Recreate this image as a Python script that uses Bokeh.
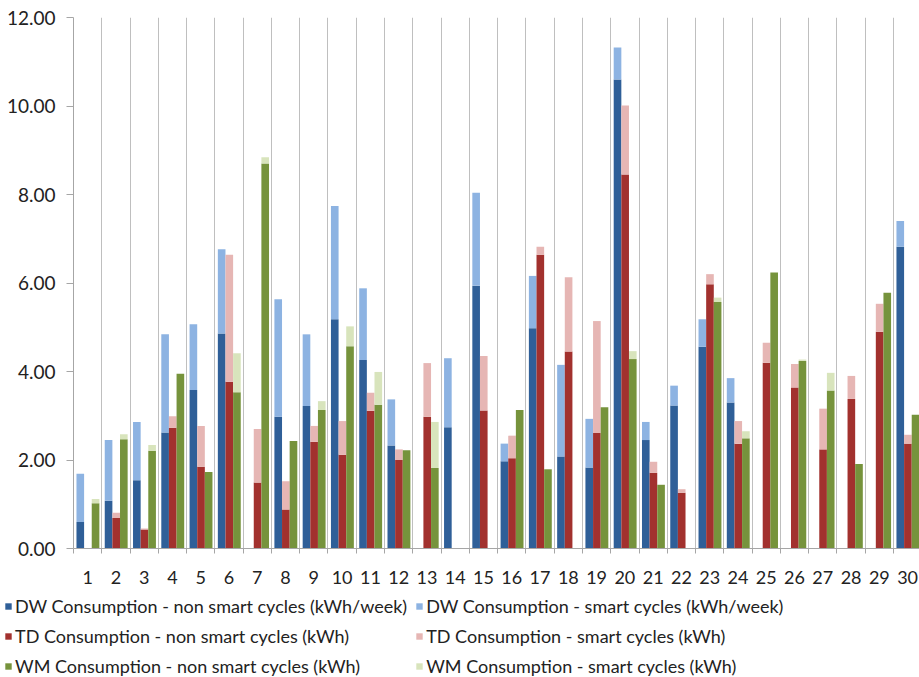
from bokeh.plotting import figure
from bokeh.layouts import column
from bokeh.models import ColumnDataSource, FixedTicker, NumeralTickFormatter, Legend, LegendItem, Range1d
from bokeh.embed import file_html
from bokeh.resources import INLINE

households = list(range(1, 31))

dw_non = [0.60, 1.08, 1.54, 2.62, 3.58, 4.86, 0.00, 2.98, 3.22, 5.18,
          4.26, 2.33, 0.00, 2.74, 5.94, 1.97, 4.98, 2.08, 1.83, 10.60,
          2.45, 3.23, 4.56, 3.30, 0.00, 0.00, 0.00, 0.00, 0.00, 6.82]
dw_smart = [1.09, 1.37, 1.32, 2.22, 1.49, 1.90, 0.00, 2.65, 1.62, 2.56,
            1.62, 1.04, 0.00, 1.56, 2.10, 0.40, 1.18, 2.07, 1.10, 0.72,
            0.41, 0.45, 0.62, 0.55, 0.00, 0.00, 0.00, 0.00, 0.00, 0.58]

td_non = [0.00, 0.69, 0.43, 2.73, 1.85, 3.77, 1.49, 0.88, 2.41, 2.12,
          3.11, 2.00, 2.98, 0.00, 3.12, 2.04, 6.64, 4.45, 2.61, 8.45,
          1.71, 1.26, 5.97, 2.37, 4.20, 3.64, 2.24, 3.38, 4.90, 2.37]
td_smart = [0.00, 0.12, 0.02, 0.26, 0.92, 2.87, 1.21, 0.64, 0.36, 0.76,
            0.41, 0.24, 1.21, 0.00, 1.23, 0.51, 0.18, 1.68, 2.53, 1.56,
            0.25, 0.08, 0.23, 0.51, 0.45, 0.53, 0.92, 0.52, 0.63, 0.20]

wm_non = [1.02, 2.47, 2.21, 3.95, 1.73, 3.53, 8.70, 2.43, 3.13, 4.57,
          3.25, 2.22, 1.82, 0.00, 0.00, 3.13, 1.79, 0.00, 3.19, 4.28,
          1.44, 0.00, 5.57, 2.49, 6.24, 4.24, 3.57, 1.91, 5.78, 3.02]
wm_smart = [0.10, 0.11, 0.13, 0.00, 0.00, 0.88, 0.14, 0.00, 0.20, 0.45,
            0.74, 0.00, 1.04, 0.00, 0.00, 0.00, 0.00, 0.00, 0.00, 0.18,
            0.00, 0.00, 0.10, 0.16, 0.00, 0.03, 0.40, 0.00, 0.00, 0.00]

y_ticks = [0, 2, 4, 6, 8, 10, 12]

series = [
    ("DW", dw_non, dw_smart, "#2F5F98", "#8DB3E2",
     "DW Consumption - non smart cycles (kWh/week)", "DW Consumption - smart cycles (kWh/week)"),
    ("TD", td_non, td_smart, "#A2312E", "#E6B6B4",
     "TD Consumption - non smart cycles (kWh)", "TD Consumption - smart cycles (kWh)"),
    ("WM", wm_non, wm_smart, "#76933C", "#D8E4BC",
     "WM Consumption - non smart cycles (kWh)", "WM Consumption - smart cycles (kWh)"),
]
offsets = [-0.26, 0.01, 0.28]
bar_w = 0.27

FONT = "Lato"

p = figure(width=919, height=590, output_backend="svg", toolbar_location=None,
           x_range=Range1d(0.5, 30.42), y_range=Range1d(0, 12),
           min_border_left=73, min_border_right=0, min_border_top=17, min_border_bottom=42)
p.outline_line_color = None
p.background_fill_color = "white"

sources = []
for (name, non, smart, c1, c2, lab1, lab2), off in zip(series, offsets):
    xs = [h + off for h in households]
    tops = [a + b for a, b in zip(non, smart)]
    src = ColumnDataSource(dict(x=xs, non=non, top=tops))
    sources.append(src)
    p.vbar(x="x", bottom=0, top="non", width=bar_w, source=src,
           fill_color=c1, line_color=None)
    p.vbar(x="x", bottom="non", top="top", width=bar_w, source=src,
           fill_color=c2, line_color=None)

bounds = [h + 0.5 for h in [0] + households]

xa = p.xaxis[0]
xa.ticker = FixedTicker(ticks=households, minor_ticks=bounds)
xa.axis_line_color = "#A6A6A6"
xa.major_tick_line_color = None
xa.major_tick_out = 0
xa.major_tick_in = 0
xa.minor_tick_line_color = "#A6A6A6"
xa.minor_tick_out = 5
xa.minor_tick_in = 0
xa.major_label_standoff = 17
xa.major_label_text_font = FONT
xa.major_label_text_font_size = "18px"
xa.major_label_text_color = "#222222"

ya = p.yaxis[0]
ya.ticker = FixedTicker(ticks=y_ticks)
ya.formatter = NumeralTickFormatter(format="0.00")
ya.axis_line_color = "#A6A6A6"
ya.major_tick_line_color = "#A6A6A6"
ya.major_tick_out = 7
ya.major_tick_in = 0
ya.minor_tick_line_color = None
ya.major_label_standoff = 11
ya.major_label_text_font = FONT
ya.major_label_text_font_size = "19px"
ya.major_label_text_color = "#222222"

p.xgrid[0].ticker = FixedTicker(ticks=bounds)
p.xgrid[0].grid_line_color = "#BFBFBF"
p.ygrid[0].grid_line_color = None

# legend panel below the chart (its renderers reuse the data but lie outside its view)
pl = figure(width=919, height=87, output_backend="svg", toolbar_location=None,
            x_range=Range1d(-3, -2), y_range=Range1d(-3, -2),
            x_axis_type=None, y_axis_type=None,
            min_border_left=0, min_border_right=0, min_border_top=0, min_border_bottom=0)
pl.outline_line_color = None
pl.xgrid.visible = False
pl.ygrid.visible = False
if "frame_align" in pl.properties():
    pl.frame_align = False
    p.frame_align = False

items_non = []
items_smart = []
for (name, non, smart, c1, c2, lab1, lab2), src in zip(series, sources):
    r1 = pl.vbar(x="x", bottom=0, top="non", width=bar_w, source=src,
                 fill_color=c1, line_color=None)
    r2 = pl.vbar(x="x", bottom="non", top="top", width=bar_w, source=src,
                 fill_color=c2, line_color=None)
    items_non.append(LegendItem(label=lab1, renderers=[r1]))
    items_smart.append(LegendItem(label=lab2, renderers=[r2]))

legend = Legend(items=items_non + items_smart, ncols=2, location=(4, 0),
                label_text_font=FONT, label_text_font_size="18px",
                label_text_color="#222222", glyph_width=8, glyph_height=8,
                label_height=19, label_standoff=3, spacing=8, padding=0, margin=0,
                background_fill_alpha=0, border_line_alpha=0)
pl.add_layout(legend, "center")

layout = column(p, pl, spacing=0)

open("out.html", "w").write(file_html(layout, INLINE))
